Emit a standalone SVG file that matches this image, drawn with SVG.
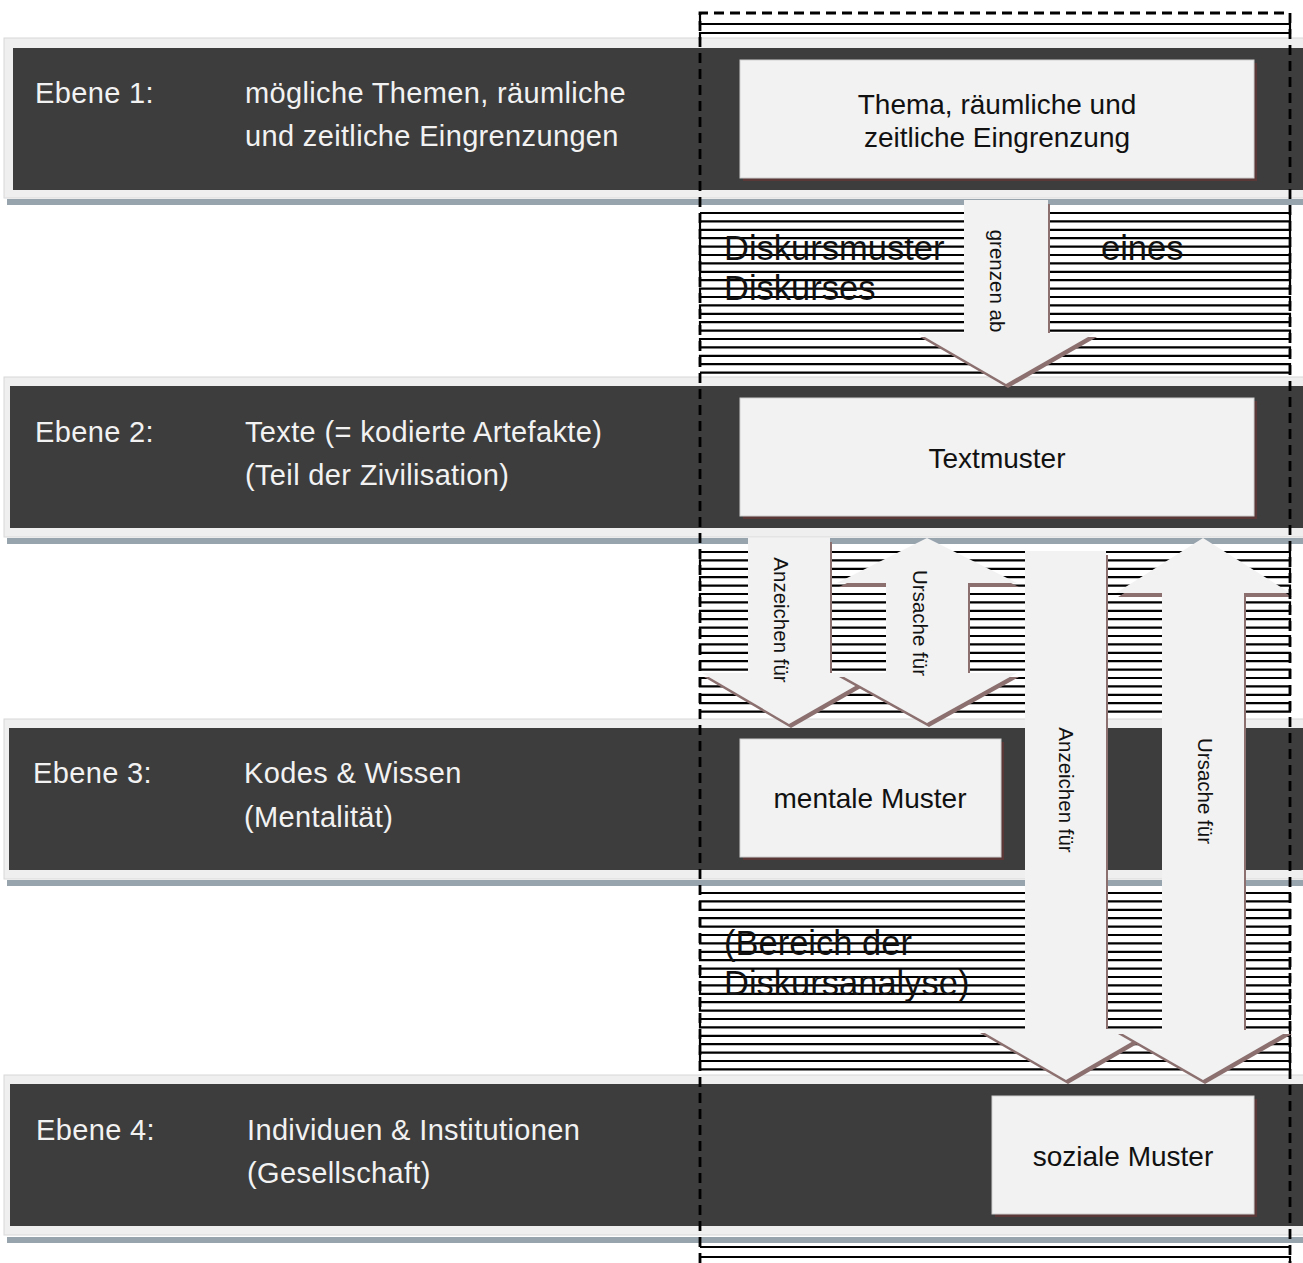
<svg xmlns="http://www.w3.org/2000/svg" width="1303" height="1263" viewBox="0 0 1303 1263">
<defs>
<style>
.frame{fill:#efefef;stroke:#d8d8d8;stroke-width:1}
.band{fill:#3d3d3d}
.rule{fill:#97a3ad}
.lvl{font-family:"Liberation Sans",Arial,sans-serif;font-size:29px;letter-spacing:0.35px;fill:#f2f2f2}
.box{fill:#f2f2f2;stroke:#cfcfcf;stroke-width:1}
.boxsh{fill:#5a3838}
.btxt{font-family:"Liberation Sans",Arial,sans-serif;font-size:28px;fill:#111;text-anchor:middle}
.big{font-family:"Liberation Sans",Arial,sans-serif;font-size:34.5px;fill:#111}
.hatch{fill:none;stroke:#000;stroke-width:2.2}
.arr{fill:#f2f2f2}
.arrsh{fill:#8c7070}
.atxt{font-family:"Liberation Sans",Arial,sans-serif;font-size:20.5px;fill:#111;text-anchor:middle;dominant-baseline:central}
.dash{fill:none;stroke:#000;stroke-width:2.8;stroke-dasharray:10 6}
</style>
</defs>
<rect width="1303" height="1263" fill="#ffffff"/>

<g id="ebene1">
<rect class="frame" x="4" y="38" width="1300" height="160"/>
<rect class="band" x="13" y="48" width="1290" height="142"/>
<rect class="rule" x="7" y="199" width="1296" height="6"/>
<text class="lvl" x="35" y="103">Ebene 1:</text>
<text class="lvl" x="245" y="103">mögliche Themen, räumliche</text>
<text class="lvl" x="245" y="146">und zeitliche Eingrenzungen</text>
</g>
<g id="ebene2">
<rect class="frame" x="4" y="377" width="1300" height="160"/>
<rect class="band" x="10" y="386" width="1293" height="142"/>
<rect class="rule" x="7" y="538" width="1296" height="6"/>
<text class="lvl" x="35" y="442">Ebene 2:</text>
<text class="lvl" x="245" y="442">Texte (= kodierte Artefakte)</text>
<text class="lvl" x="245" y="485">(Teil der Zivilisation)</text>
</g>
<g id="ebene3">
<rect class="frame" x="4" y="719" width="1300" height="160"/>
<rect class="band" x="9" y="728" width="1294" height="142"/>
<rect class="rule" x="7" y="880" width="1296" height="6"/>
<text class="lvl" x="33" y="783">Ebene 3:</text>
<text class="lvl" x="244" y="783">Kodes &amp; Wissen</text>
<text class="lvl" x="244" y="827">(Mentalität)</text>
</g>
<g id="ebene4">
<rect class="frame" x="4" y="1075" width="1300" height="160"/>
<rect class="band" x="10" y="1084" width="1293" height="142"/>
<rect class="rule" x="7" y="1237" width="1296" height="6"/>
<text class="lvl" x="36" y="1140">Ebene 4:</text>
<text class="lvl" x="247" y="1140">Individuen &amp; Institutionen</text>
<text class="lvl" x="247" y="1183">(Gesellschaft)</text>
</g>

<g id="hatching">
<path class="hatch" d="M700,13V24H1290V33H700V40"/>
<path class="hatch" d="M700,213H1290V221.4H700V229.8H1290V238.2H700V246.6H1290V255H700V263.4H1290V271.8H700V280.2H1290V288.6H700V297H1290V305.4H700V313.8H1290V322.2H700V330.6H1290V339H700V347.4H1290V355.8H700V364.2H1290V372.6H700"/>
<path class="hatch" d="M700,552H1290V560.4H700V568.8H1290V577.2H700V585.6H1290V594H700V602.4H1290V610.8H700V619.2H1290V627.6H700V636H1290V644.4H700V652.8H1290V661.2H700V669.6H1290V678H700V686.4H1290V694.8H700V703.2H1290V711.6H700"/>
<path class="hatch" d="M700,893H1290V901.4H700V909.8H1290V918.2H700V926.6H1290V935H700V943.4H1290V951.8H700V960.2H1290V968.6H700V977H1290V985.4H700V993.8H1290V1002.2H700V1010.6H1290V1019H700V1027.4H1290V1035.8H700V1044.2H1290V1052.6H700V1061H1290V1069.4H700"/>
<path class="hatch" d="M700,1247H1290M700,1257H1290V1263"/>
</g>

<g id="labels-bereich">
<text class="big" x="724" y="260">Diskursmuster</text>
<text class="big" x="1101" y="260">eines</text>
<text class="big" x="724" y="300">Diskurses</text>
<text class="big" x="724" y="955">(Bereich der</text>
<text class="big" x="724" y="995">Diskursanalyse)</text>
</g>

<g id="connectors">
<g id="arrow-grenzen-ab">
<polygon class="arrsh" transform="translate(2,4)" points="964,200 1048,200 1048,333 1095,333 1006,384 918,333 964,333"/>
<polygon class="arr" points="964,200 1048,200 1048,333 1095,333 1006,384 918,333 964,333"/>
<text class="atxt" transform="translate(997,281) rotate(90)">grenzen ab</text>
</g>
<g id="arrow-anzeichen-kurz">
<polygon class="arrsh" transform="translate(2,4)" points="748,538 830,538 830,673 878,673 789,724 702,673 748,673"/>
<polygon class="arr" points="748,538 830,538 830,673 878,673 789,724 702,673 748,673"/>
<text class="atxt" transform="translate(781,620) rotate(90)">Anzeichen für</text>
</g>
<g id="arrow-ursache-kurz">
<polygon class="arrsh" transform="translate(2,4)" points="927,538 1017,583 968,583 968,673 1017,673 927,723 837,673 886,673 886,583 837,583"/>
<polygon class="arr" points="927,538 1017,583 968,583 968,673 1017,673 927,723 837,673 886,673 886,583 837,583"/>
<text class="atxt" transform="translate(920,623) rotate(90)">Ursache für</text>
</g>
<g id="arrow-anzeichen-lang">
<polygon class="arrsh" transform="translate(2,4)" points="1025,551 1106,551 1106,1029 1154,1029 1066,1080 978,1029 1025,1029"/>
<polygon class="arr" points="1025,551 1106,551 1106,1029 1154,1029 1066,1080 978,1029 1025,1029"/>
<text class="atxt" transform="translate(1066,790) rotate(90)">Anzeichen für</text>
</g>
<g id="arrow-ursache-lang">
<polygon class="arrsh" transform="translate(2,4)" points="1203,538 1290,593 1244,593 1244,1030 1290,1030 1203,1080 1116,1030 1162,1030 1162,593 1116,593"/>
<polygon class="arr" points="1203,538 1290,593 1244,593 1244,1030 1290,1030 1203,1080 1116,1030 1162,1030 1162,593 1116,593"/>
<text class="atxt" transform="translate(1205,791) rotate(90)">Ursache für</text>
</g>
</g>

<g id="box-thema">
<rect class="boxsh" x="743" y="63" width="514" height="118"/>
<rect class="box" x="740" y="60" width="514" height="118"/>
<text class="btxt" x="997" y="114">Thema, räumliche und</text>
<text class="btxt" x="997" y="147">zeitliche Eingrenzung</text>
</g>
<g id="box-textmuster">
<rect class="boxsh" x="743" y="401" width="514" height="118"/>
<rect class="box" x="740" y="398" width="514" height="118"/>
<text class="btxt" x="997" y="468">Textmuster</text>
</g>
<g id="box-mentale">
<rect class="boxsh" x="743" y="742" width="261" height="118"/>
<rect class="box" x="740" y="739" width="261" height="118"/>
<text class="btxt" x="870" y="808">mentale Muster</text>
</g>
<g id="box-soziale">
<rect class="boxsh" x="995" y="1099" width="262" height="118"/>
<rect class="box" x="992" y="1096" width="262" height="118"/>
<text class="btxt" x="1123" y="1166">soziale Muster</text>
</g>

<g id="bereich-rahmen">
<path class="dash" d="M700,1263V13H1290V1263"/>
</g>
</svg>
